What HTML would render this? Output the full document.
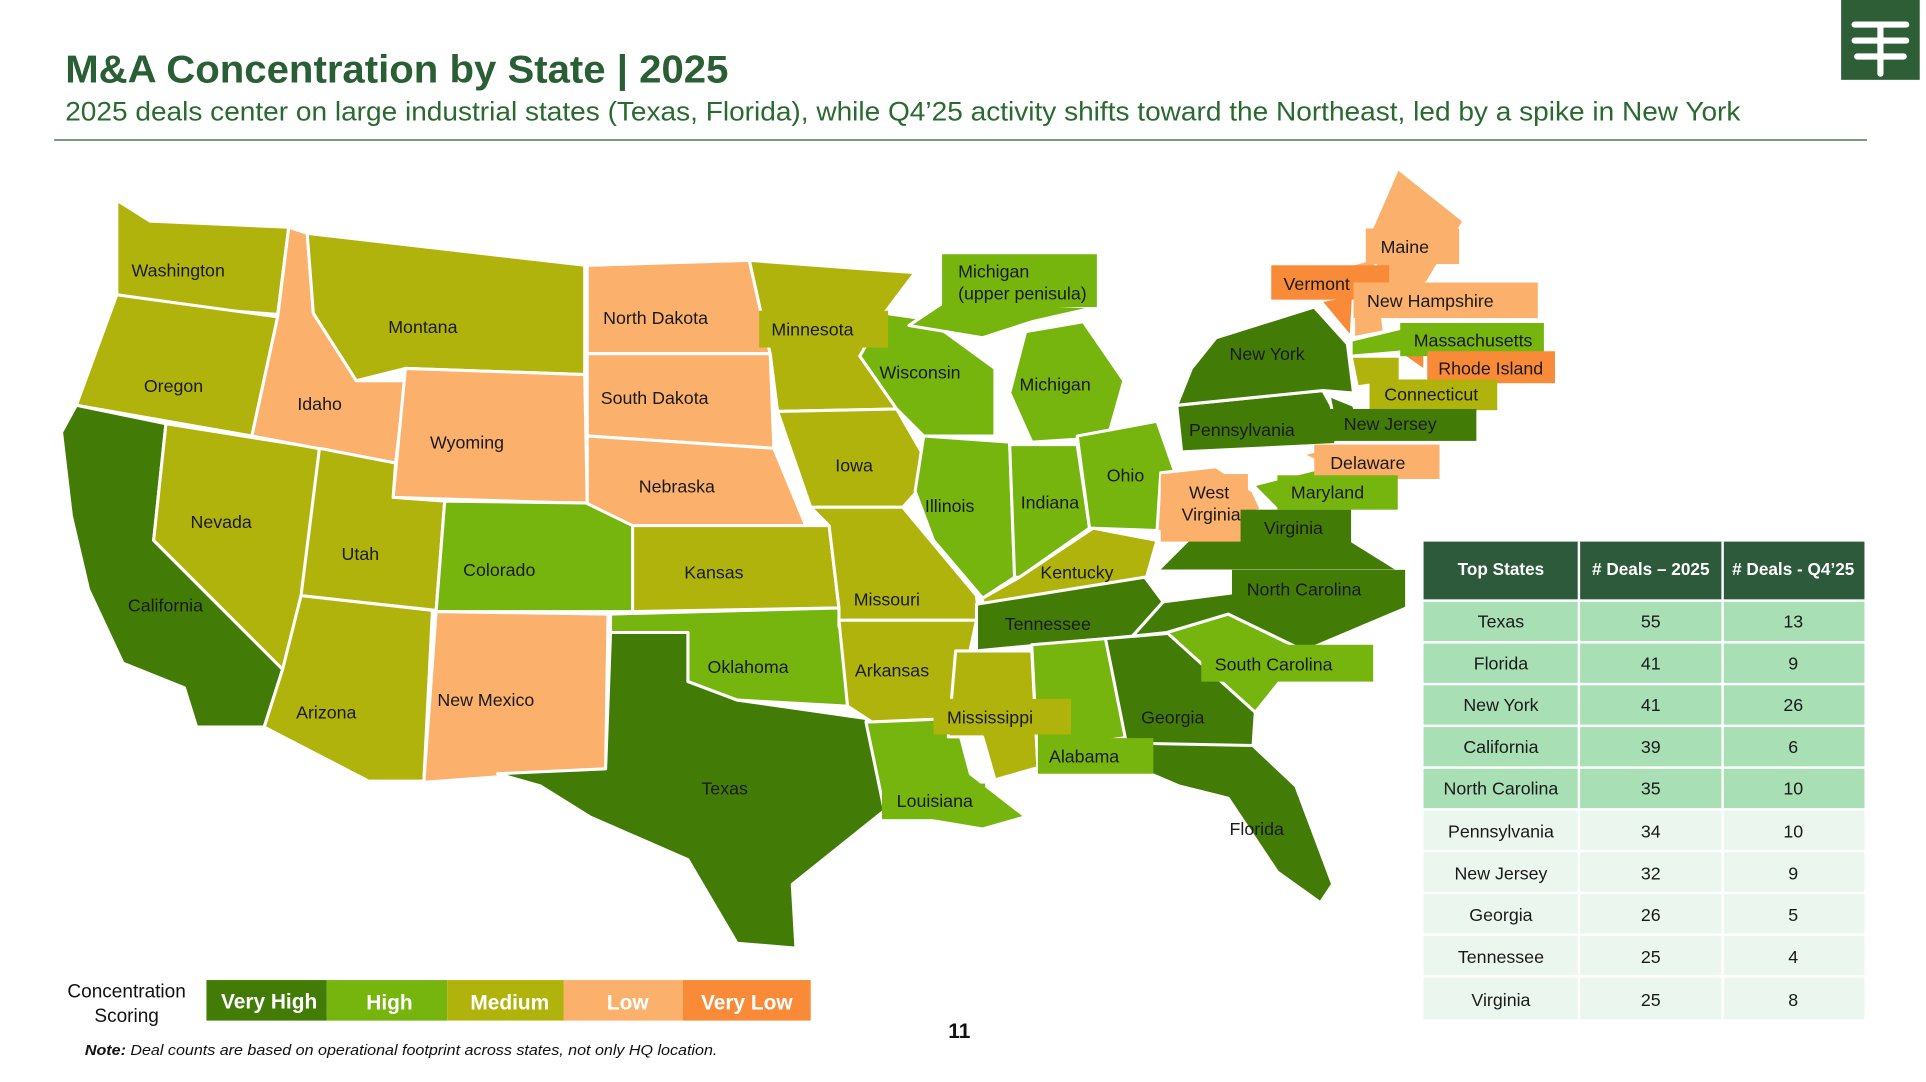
<!DOCTYPE html>
<html><head><meta charset="utf-8"><style>
html,body{margin:0;padding:0;background:#fff;width:1926px;height:1082px;overflow:hidden}
svg{display:block}
text{font-family:"Liberation Sans",Arial,sans-serif}
</style></head><body>
<svg width="1926" height="1082" viewBox="0 0 1568 881" xmlns="http://www.w3.org/2000/svg">
<defs><style>
.vh{fill:#427c07}.h{fill:#76b40e}.m{fill:#b1b30d}.l{fill:#fbb06c}.vl{fill:#f98a38}
.s{stroke:#fff;stroke-width:2.5;stroke-linejoin:round}
.lb{font-size:14.5px;fill:#1a1a1a}
</style></defs>
<rect width="1568" height="881" fill="#fff"/>
<text x="53" y="67" font-size="32" font-weight="bold" fill="#2a5e34" textLength="540" lengthAdjust="spacingAndGlyphs">M&amp;A Concentration by State | 2025</text>
<text x="53" y="98" font-size="22" fill="#2a6a30" textLength="1364" lengthAdjust="spacingAndGlyphs">2025 deals center on large industrial states (Texas, Florida), while Q4’25 activity shifts toward the Northeast, led by a spike in New York</text>
<line x1="44" y1="114" x2="1520" y2="114" stroke="#2a5e34" stroke-width="1"/>
<rect x="1499" y="0" width="64" height="65" fill="#2e5e36"/>
<g stroke="#fff" stroke-width="5" stroke-linecap="round" fill="none">
<line x1="1510" y1="20" x2="1552" y2="20"/><line x1="1510" y1="33" x2="1552" y2="33"/><line x1="1512" y1="46" x2="1550" y2="46"/>
<line x1="1531" y1="20" x2="1531" y2="60"/></g>

<g class="s">
<polygon class="m" points="95,163 122,180 235,185 226,256 118,248 95,240"/>
<polygon class="m" points="95,240 226,258 205,355 62,330"/>
<polygon class="vh" points="62,330 135,345 125,440 230,545 215,592 160,592 150,560 100,540 72,480 58,420 50,352"/>
<polygon class="m" points="135,345 260,365 242,520 230,545 125,440"/>
<polygon class="l" points="235,185 250,190 255,255 290,310 330,310 322,377 205,355 226,258"/>
<polygon class="m" points="250,190 476,216 476,305 330,300 290,310 255,255"/>
<polygon class="l" points="330,300 476,305 478,410 320,405"/>
<polygon class="m" points="260,365 322,377 320,405 362,408 355,497 245,485"/>
<polygon class="m" points="245,485 352,497 345,636 300,636 215,592 230,545"/>
<polygon class="h" points="362,408 515,410 515,498 355,498"/>
<polygon class="l" points="355,498 495,500 493,626 345,637"/>
<polygon class="l" points="478,216 610,212 627,288 478,288"/>
<polygon class="l" points="478,288 627,288 630,365 478,355"/>
<polygon class="l" points="478,355 630,365 656,428 515,428 478,410"/>
<polygon class="m" points="515,428 675,428 683,495 515,498"/>
<polygon class="h" points="497,500 683,495 690,575 600,570 560,555 560,515 497,515"/>
<polygon class="vh" points="497,515 560,515 560,555 600,570 705,585 720,660 645,720 648,772 600,768 560,700 480,665 440,640 405,630 493,626"/>
<polygon class="m" points="610,212 745,222 720,255 700,290 730,333 633,335 627,288"/>
<polygon class="m" points="633,335 730,333 760,385 735,413 660,413"/>
<polygon class="m" points="660,413 735,413 795,485 797,505 683,510 683,495 675,428"/>
<polygon class="m" points="683,505 795,505 778,585 710,588 690,575"/>
<polygon class="h" points="705,588 778,585 790,630 835,665 800,675 740,665 720,660"/>
<polygon class="h" points="720,255 755,260 810,300 810,355 752,355 730,333 700,290"/>
<polygon class="h" points="740,265 770,245 893,250 840,262 800,275"/>
<polygon class="h" points="835,270 882,262 915,310 902,356 840,360 822,320"/>
<polygon class="h" points="752,355 822,360 826,470 800,487 760,440 745,400"/>
<polygon class="h" points="822,362 877,362 887,430 830,470 826,470"/>
<polygon class="h" points="877,355 942,343 962,400 942,432 887,430"/>
<polygon class="m" points="800,487 830,470 890,430 942,440 932,475 800,492"/>
<polygon class="vh" points="795,492 932,470 947,490 922,518 795,530"/>
<polygon class="m" points="778,530 840,530 845,625 810,635 800,600 772,600"/>
<polygon class="h" points="840,525 900,520 920,600 855,610 845,625"/>
<polygon class="vh" points="900,520 960,515 1022,580 1020,610 917,605"/>
<polygon class="vh" points="917,605 1020,607 1055,640 1085,720 1075,735 1040,710 1000,650 960,640 925,625"/>
<polygon class="h" points="950,515 1000,500 1062,530 1022,580"/>
<polygon class="vh" points="922,518 947,490 1140,465 1145,495 1062,530 1000,500 950,515"/>
<polygon class="vh" points="942,465 977,430 1030,415 1060,420 1100,440 1140,465"/>
<polygon class="l" points="945,385 990,380 1020,400 1027,415 977,430 960,440 942,432"/>
<polygon class="vh" points="958,330 1077,318 1092,345 1087,362 962,368"/>
<polygon class="vh" points="990,275 1070,250 1097,280 1102,320 1077,318 958,330 970,300"/>
<polygon class="h" points="1020,395 1080,380 1100,415 1040,415"/>
<polygon class="l" points="1060,370 1080,365 1092,385"/>
<polygon class="vh" points="1082,322 1102,330 1112,360 1090,360"/>
<polygon class="vl" points="1075,245 1102,240 1100,275"/>
<polygon class="l" points="1102,215 1120,210 1127,270 1102,275"/>
<polygon class="l" points="1115,190 1138,137 1192,180 1162,230 1127,250"/>
<polygon class="h" points="1100,277 1150,265 1160,285 1100,290"/>
<polygon class="m" points="1100,290 1140,290 1140,310 1105,315"/>
<polygon class="vl" points="1140,288 1160,288 1160,302"/>
</g>

<rect class="h" x="767" y="207" width="126" height="43"/>
<rect class="m" x="618" y="253" width="105" height="30"/>
<rect class="vl" x="1035" y="216" width="96" height="28"/>
<rect class="l" x="1102" y="230" width="150" height="29"/>
<rect class="l" x="1112" y="186" width="76" height="29"/>
<rect class="h" x="1140" y="263" width="117" height="27"/>
<rect class="vl" x="1162" y="286" width="104" height="26"/>
<rect class="m" x="1115" y="309" width="104" height="25"/>
<rect class="vh" x="1082" y="333" width="120" height="26"/>
<rect class="l" x="1070" y="362" width="102" height="28"/>
<rect class="h" x="1040" y="387" width="98" height="28"/>
<rect class="l" x="945" y="386" width="71" height="55"/>
<rect class="vh" x="1010" y="415" width="90" height="30"/>
<rect class="vh" x="1003" y="464" width="141" height="30"/>
<rect class="h" x="978" y="525" width="140" height="30"/>
<rect class="m" x="760" y="569" width="112" height="29"/>
<rect class="h" x="845" y="601" width="94" height="29"/>
<rect class="h" x="718" y="638" width="84" height="29"/>

<g class="lb">
<text x="107" y="225">Washington</text><text x="117" y="319">Oregon</text>
<text x="104" y="498">California</text><text x="155" y="430">Nevada</text>
<text x="242" y="334">Idaho</text><text x="316" y="271">Montana</text>
<text x="350" y="365">Wyoming</text><text x="278" y="456">Utah</text>
<text x="241" y="585">Arizona</text><text x="377" y="469">Colorado</text>
<text x="356" y="575">New Mexico</text><text x="491" y="264">North Dakota</text>
<text x="489" y="329">South Dakota</text><text x="520" y="401">Nebraska</text>
<text x="557" y="471">Kansas</text><text x="576" y="548">Oklahoma</text>
<text x="571" y="647">Texas</text><text x="628" y="273">Minnesota</text>
<text x="680" y="384">Iowa</text><text x="695" y="493">Missouri</text>
<text x="696" y="551">Arkansas</text><text x="730" y="657">Louisiana</text>
<text x="716" y="308">Wisconsin</text><text x="780" y="226">Michigan</text>
<text x="780" y="244">(upper penisula)</text><text x="830" y="318">Michigan</text>
<text x="753" y="417">Illinois</text><text x="831" y="414">Indiana</text>
<text x="901" y="392">Ohio</text><text x="847" y="471">Kentucky</text>
<text x="818" y="513">Tennessee</text><text x="771" y="589">Mississippi</text>
<text x="854" y="621">Alabama</text><text x="929" y="589">Georgia</text>
<text x="1001" y="680">Florida</text><text x="989" y="546">South Carolina</text>
<text x="1015" y="485">North Carolina</text><text x="1029" y="435">Virginia</text>
<text x="968" y="406">West</text><text x="962" y="424">Virginia</text>
<text x="968" y="355">Pennsylvania</text><text x="1001" y="293">New York</text>
<text x="1051" y="406">Maryland</text><text x="1083" y="382">Delaware</text>
<text x="1094" y="350">New Jersey</text><text x="1045" y="236">Vermont</text>
<text x="1113" y="250">New Hampshire</text><text x="1124" y="206">Maine</text>
<text x="1151" y="282">Massachusetts</text><text x="1171" y="305">Rhode Island</text>
<text x="1127" y="326">Connecticut</text>
</g>

<g font-size="14.5" text-anchor="middle">
<rect x="1159" y="441" width="359" height="47" fill="#2c5a3a"/>
<g fill="#fff" font-weight="bold" font-size="14">
<text x="1222" y="468">Top States</text><text x="1344" y="468"># Deals – 2025</text><text x="1460" y="468"># Deals - Q4’25</text></g>
<g fill="#a8dfb4">
<rect x="1159" y="490" width="359" height="32"/><rect x="1159" y="524" width="359" height="32"/>
<rect x="1159" y="558" width="359" height="32"/><rect x="1159" y="592" width="359" height="32"/>
<rect x="1159" y="626" width="359" height="32"/></g>
<g fill="#ebf6ee">
<rect x="1159" y="660" width="359" height="32"/><rect x="1159" y="694" width="359" height="32"/>
<rect x="1159" y="728" width="359" height="32"/><rect x="1159" y="762" width="359" height="32"/>
<rect x="1159" y="796" width="359" height="34"/></g>
<line x1="1285.5" y1="441" x2="1285.5" y2="830" stroke="#fff" stroke-width="2"/>
<line x1="1402.5" y1="441" x2="1402.5" y2="830" stroke="#fff" stroke-width="2"/>
<g fill="#1a1a1a">
<text x="1222" y="511">Texas</text><text x="1344" y="511">55</text><text x="1460" y="511">13</text>
<text x="1222" y="545">Florida</text><text x="1344" y="545">41</text><text x="1460" y="545">9</text>
<text x="1222" y="579">New York</text><text x="1344" y="579">41</text><text x="1460" y="579">26</text>
<text x="1222" y="613">California</text><text x="1344" y="613">39</text><text x="1460" y="613">6</text>
<text x="1222" y="647">North Carolina</text><text x="1344" y="647">35</text><text x="1460" y="647">10</text>
<text x="1222" y="682">Pennsylvania</text><text x="1344" y="682">34</text><text x="1460" y="682">10</text>
<text x="1222" y="716">New Jersey</text><text x="1344" y="716">32</text><text x="1460" y="716">9</text>
<text x="1222" y="750">Georgia</text><text x="1344" y="750">26</text><text x="1460" y="750">5</text>
<text x="1222" y="784">Tennessee</text><text x="1344" y="784">25</text><text x="1460" y="784">4</text>
<text x="1222" y="819">Virginia</text><text x="1344" y="819">25</text><text x="1460" y="819">8</text>
</g></g>

<g font-size="15.5" text-anchor="middle" fill="#111">
<text x="103" y="812">Concentration</text><text x="103" y="832">Scoring</text></g>
<rect class="vh" x="168" y="798" width="98" height="33"/>
<rect class="h" x="266" y="798" width="98" height="33"/>
<rect class="m" x="364" y="798" width="95" height="33"/>
<rect class="l" x="459" y="798" width="97" height="33"/>
<rect class="vl" x="556" y="798" width="104" height="33"/>
<g font-size="17" font-weight="bold" fill="#fff" text-anchor="middle">
<text x="219" y="821">Very High</text><text x="317" y="822">High</text><text x="415" y="822">Medium</text>
<text x="511" y="822">Low</text><text x="608" y="822">Very Low</text></g>
<text x="69" y="859" font-size="12" font-style="italic" fill="#111" textLength="515" lengthAdjust="spacingAndGlyphs"><tspan font-weight="bold">Note:</tspan> Deal counts are based on operational footprint across states, not only HQ location.</text>
<text x="781" y="845" font-size="17" font-weight="bold" text-anchor="middle" fill="#111">11</text>
</svg>
</body></html>
